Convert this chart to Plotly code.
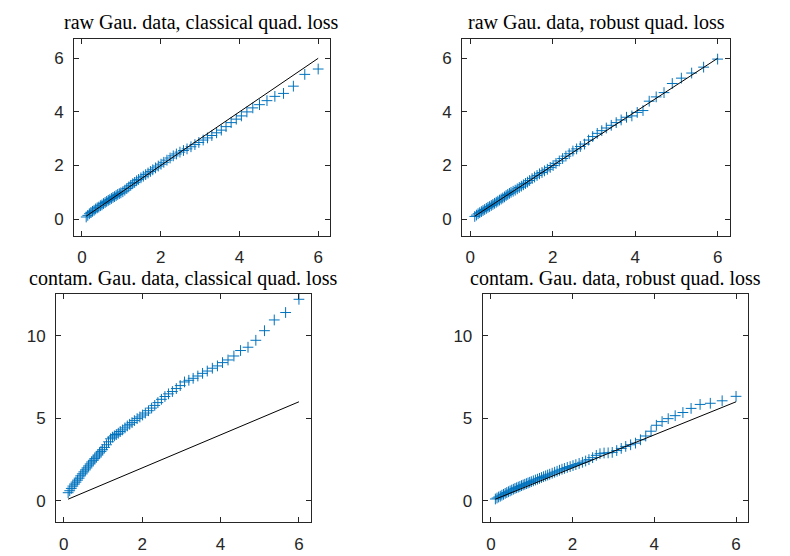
import plotly.graph_objects as go

# Theoretical quantiles (shared horizontal coordinate for all four panels)
quantiles = [
    0.11, 0.15, 0.19, 0.23, 0.27, 0.31, 0.35, 0.39, 0.43, 0.47,
    0.51, 0.55, 0.59, 0.63, 0.67, 0.71, 0.75, 0.79, 0.83, 0.87,
    0.91, 0.95, 0.99, 1.04, 1.09, 1.14, 1.19, 1.24, 1.29, 1.34,
    1.39, 1.44, 1.50, 1.56, 1.62, 1.68, 1.74, 1.80, 1.87, 1.94,
    2.01, 2.08, 2.16, 2.24, 2.32, 2.40, 2.49, 2.58, 2.67, 2.77,
    2.87, 2.97, 3.08, 3.19, 3.30, 3.42, 3.54, 3.66, 3.79, 3.92,
    4.05, 4.19, 4.34, 4.51, 4.70, 4.90, 5.12, 5.37, 5.66, 6.00,
]

# Ordered empirical values, one list per panel
raw_classical = [
    0.08, 0.14, 0.20, 0.25, 0.29, 0.33, 0.38, 0.42, 0.45, 0.50,
    0.53, 0.58, 0.62, 0.66, 0.70, 0.73, 0.77, 0.81, 0.84, 0.88,
    0.92, 0.95, 0.98, 1.02, 1.08, 1.14, 1.20, 1.26, 1.32, 1.37,
    1.43, 1.48, 1.54, 1.60, 1.66, 1.72, 1.78, 1.84, 1.91, 1.98,
    2.05, 2.12, 2.20, 2.28, 2.36, 2.43, 2.50, 2.56, 2.62, 2.70,
    2.78, 2.86, 2.95, 3.03, 3.12, 3.22, 3.32, 3.45, 3.60, 3.73,
    3.85, 4.00, 4.15, 4.27, 4.42, 4.58, 4.69, 4.96, 5.40, 5.60,
]
raw_robust = [
    0.10, 0.15, 0.20, 0.24, 0.28, 0.32, 0.36, 0.40, 0.44, 0.47,
    0.51, 0.55, 0.59, 0.63, 0.67, 0.71, 0.75, 0.79, 0.83, 0.88,
    0.92, 0.96, 1.00, 1.04, 1.08, 1.13, 1.18, 1.23, 1.28, 1.33,
    1.38, 1.44, 1.51, 1.57, 1.63, 1.69, 1.74, 1.80, 1.86, 1.93,
    2.00, 2.08, 2.17, 2.26, 2.35, 2.44, 2.54, 2.62, 2.71, 2.80,
    2.95, 3.08, 3.20, 3.30, 3.40, 3.50, 3.60, 3.70, 3.80, 3.85,
    3.98, 4.05, 4.40, 4.56, 4.72, 5.06, 5.26, 5.45, 5.67, 5.97,
]
contam_classical = [
    0.50, 0.62, 0.76, 0.90, 1.02, 1.14, 1.26, 1.38, 1.52, 1.64,
    1.76, 1.88, 2.00, 2.12, 2.24, 2.36, 2.46, 2.56, 2.66, 2.78,
    2.90, 3.00, 3.10, 3.24, 3.40, 3.58, 3.76, 3.86, 3.94, 4.02,
    4.10, 4.20, 4.30, 4.42, 4.54, 4.64, 4.74, 4.86, 4.98, 5.08,
    5.20, 5.32, 5.46, 5.62, 5.78, 5.95, 6.15, 6.32, 6.48, 6.62,
    6.80, 6.98, 7.20, 7.30, 7.42, 7.56, 7.72, 7.86, 8.03, 8.17,
    8.37, 8.53, 8.77, 9.10, 9.30, 9.72, 10.30, 10.95, 11.40, 12.20,
]
contam_robust = [
    0.12, 0.18, 0.24, 0.29, 0.35, 0.40, 0.46, 0.51, 0.56, 0.61,
    0.66, 0.71, 0.76, 0.80, 0.84, 0.88, 0.93, 0.97, 1.01, 1.05,
    1.09, 1.13, 1.17, 1.22, 1.27, 1.32, 1.37, 1.42, 1.47, 1.52,
    1.57, 1.62, 1.68, 1.74, 1.80, 1.86, 1.92, 1.97, 2.03, 2.08,
    2.14, 2.20, 2.27, 2.34, 2.42, 2.50, 2.62, 2.76, 2.86, 2.90,
    2.91, 2.94, 3.05, 3.18, 3.30, 3.40, 3.50, 3.70, 3.93, 4.22,
    4.58, 4.80, 4.98, 5.16, 5.35, 5.60, 5.84, 5.91, 6.06, 6.33,
]

titles = [
    "raw Gau. data, classical quad. loss",
    "raw Gau. data, robust quad. loss",
    "contam. Gau. data, classical quad. loss",
    "contam. Gau. data, robust quad. loss",
]
x_ticks = [0, 2, 4, 6]
y_ticks_top = [0, 2, 4, 6]
y_ticks_bottom = [0, 5, 10]

W, H = 790, 556
# axes boxes in pixels: (left, right, top, bottom)
boxes = [
    (74, 330, 39, 236),
    (462, 730, 39, 236),
    (56, 310.7, 294, 522.3),
    (482.7, 748.3, 294, 522.3),
]
x_range = [-0.2, 6.3]
y_ranges = [[-0.63, 6.72], [-0.63, 6.72], [-1.29, 12.52], [-1.29, 12.52]]
y_tick_sets = [y_ticks_top, y_ticks_top, y_ticks_bottom, y_ticks_bottom]
series = [raw_classical, raw_robust, contam_classical, contam_robust]

BLUE = "#0072BD"
AX = "#262626"

fig = go.Figure()
layout = dict(
    width=W, height=H,
    margin=dict(l=0, r=0, t=0, b=0),
    paper_bgcolor="white", plot_bgcolor="white",
    showlegend=False,
    annotations=[],
)

ref_line = [quantiles[0], quantiles[-1]]

for i in range(4):
    l, r, t, b = boxes[i]
    n = "" if i == 0 else str(i + 1)
    xa, ya = "x" + n, "y" + n
    fig.add_trace(go.Scatter(
        x=quantiles, y=series[i], xaxis=xa, yaxis=ya, mode="markers",
        marker=dict(symbol="cross-thin", size=7.7, color=BLUE,
                    line=dict(color=BLUE, width=1)),
        hoverinfo="skip",
    ))
    fig.add_trace(go.Scatter(
        x=ref_line, y=ref_line, xaxis=xa, yaxis=ya, mode="lines",
        line=dict(color="black", width=1), hoverinfo="skip",
    ))
    common = dict(
        showline=True, linecolor=AX, linewidth=1, mirror="ticks",
        ticks="inside", ticklen=5, tickwidth=1, tickcolor=AX,
        showgrid=False, zeroline=False,
        tickfont=dict(family="Liberation Sans, Arial", size=17, color=AX),
    )
    layout["xaxis" + n] = dict(
        common, domain=[l / W, r / W], range=x_range,
        tickvals=x_ticks, anchor=ya, ticklabelstandoff=6,
    )
    layout["yaxis" + n] = dict(
        common, domain=[1 - b / H, 1 - t / H], range=y_ranges[i],
        tickvals=y_tick_sets[i], anchor=xa, ticklabelstandoff=6,
    )
    layout["annotations"].append(dict(
        text=titles[i], xref="paper", yref="paper",
        x=(l + r) / 2 / W, y=1 - (t - 16) / H,
        xanchor="center", yanchor="middle", showarrow=False,
        font=dict(family="Liberation Serif, serif", size=20, color="black"),
    ))

fig.update_layout(layout)
fig.write_html("out.html")
